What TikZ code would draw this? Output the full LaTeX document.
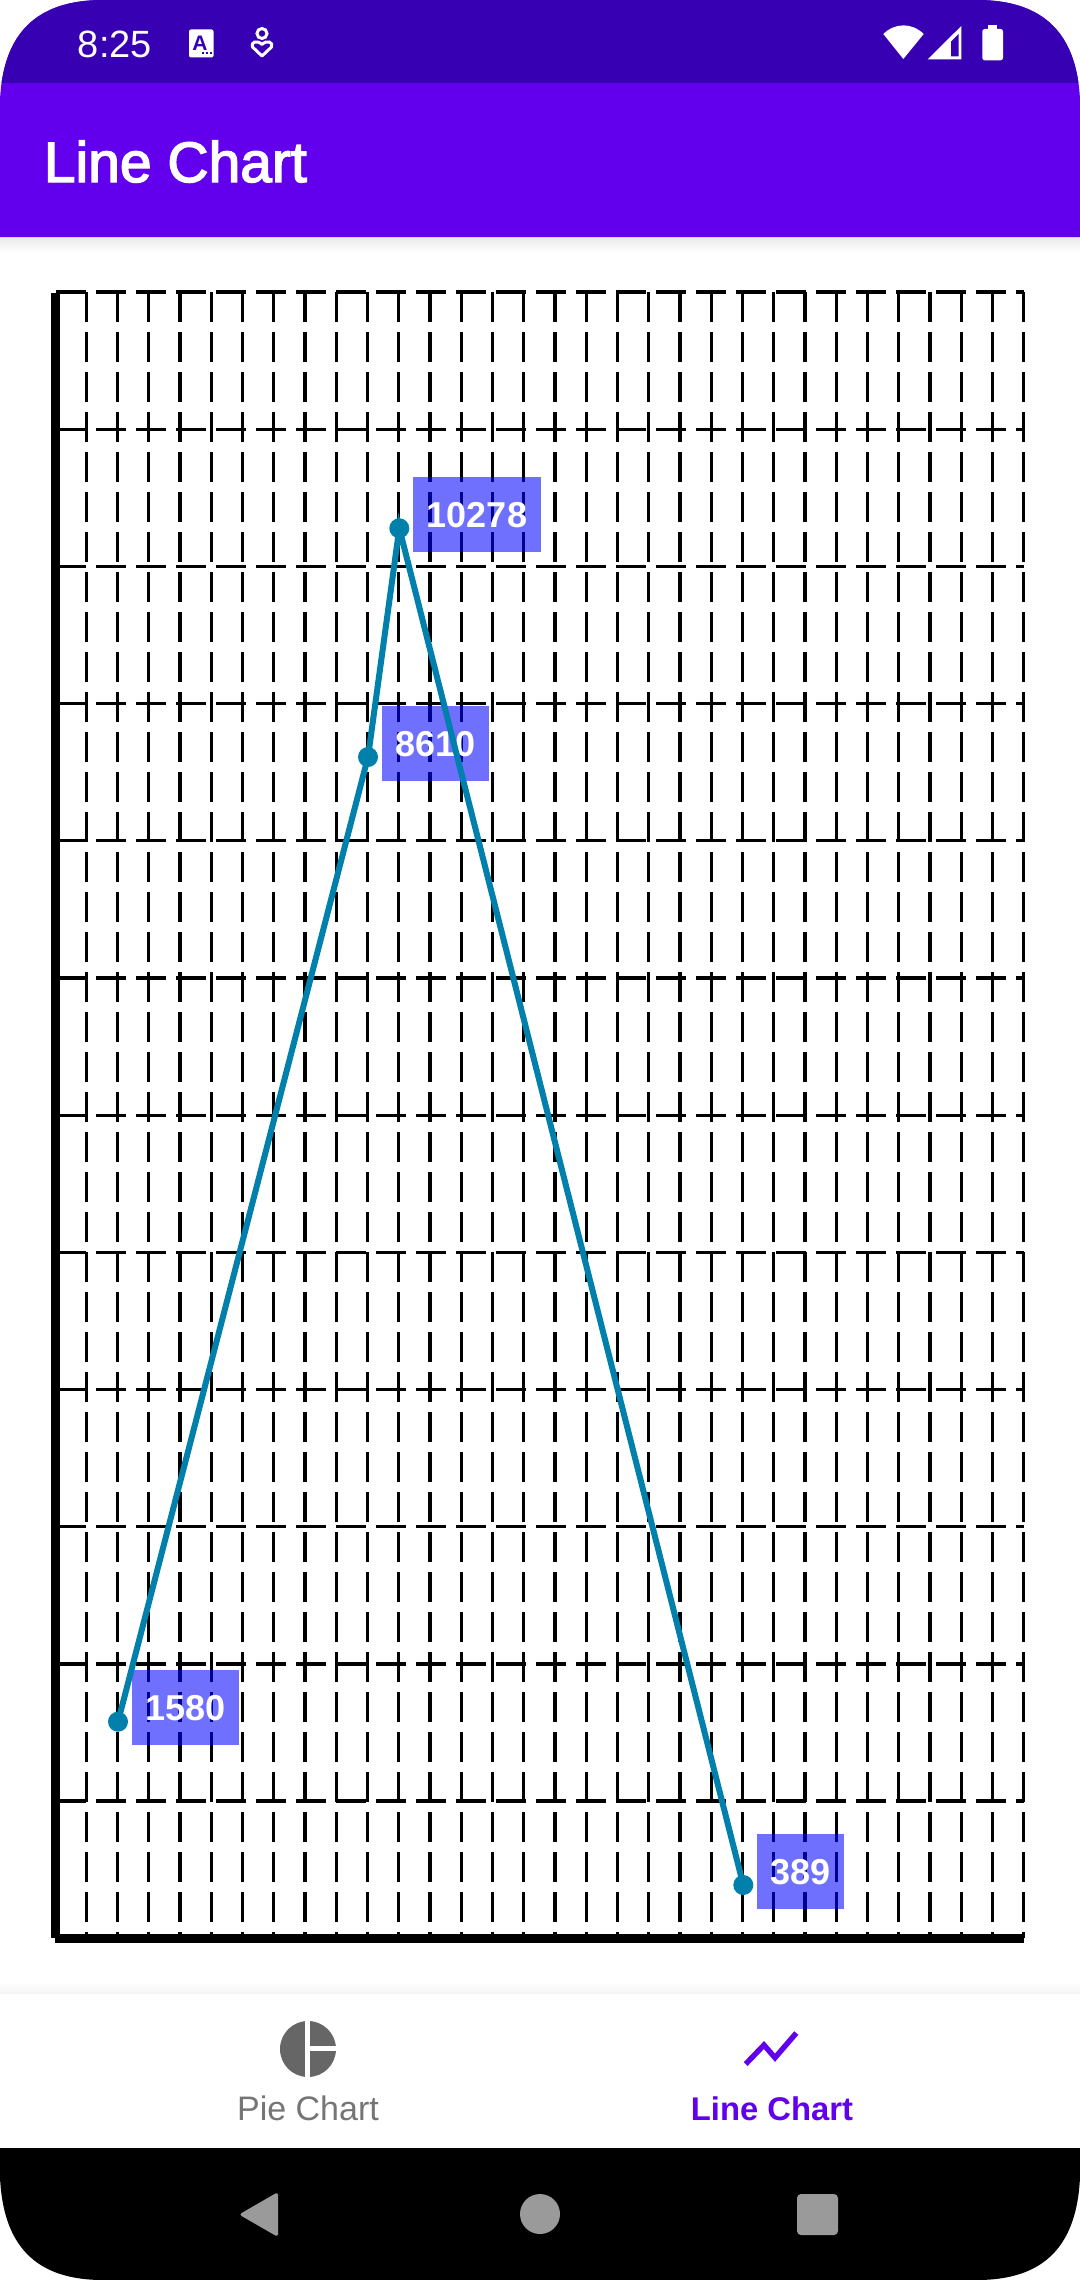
\documentclass[tikz,border=0pt]{standalone}
\usepackage{fontspec}
\setmainfont{Liberation Sans}
\newfontfamily\medfont[FakeBold=2.5]{Liberation Sans}
\usetikzlibrary{shapes.geometric}
\definecolor{statusc}{HTML}{3700B3}
\definecolor{appc}{HTML}{6200EE}
\definecolor{tealc}{HTML}{0080AA}
\definecolor{labelc}{HTML}{0000FF}
\definecolor{iconc}{HTML}{666666}
\definecolor{navc}{HTML}{9A9A9A}
\definecolor{mutedc}{HTML}{757575}
\tikzset{
  gridline/.style={black,line width=1.6pt,dash pattern=on 15pt off 5pt},
  axisline/.style={black,line width=4.5pt},
  series/.style={tealc,line width=3pt},
  datapoint/.style={circle,fill=tealc,inner sep=0pt,minimum size=10pt},
  valuebox/.style={rectangle,fill=labelc,fill opacity=0.56,text opacity=1,text=white,
    inner sep=0pt,minimum height=37.4pt,text height=12.5pt,text depth=0pt,
    font=\fontsize{18pt}{20pt}\selectfont\bfseries},
  plaintext/.style={inner sep=0pt,anchor=base west},
}
\begin{document}
\begin{tikzpicture}[x=0.5pt,y=-0.5pt]
\useasboundingbox (0,0) rectangle (1080,2280);
\fill[white] (0,0) rectangle (1080,2280);
% shadows
\shade[top color=black!9,bottom color=white] (0,236) rectangle (1080,252);
\shade[top color=white,bottom color=black!4] (0,1982) rectangle (1080,1993);
% app bar and status bar
\fill[appc] (0,237) -- (0,100) .. controls (3,35) and (35,0) .. (103,0) -- (977,0) .. controls (1045,0) and (1077,35) .. (1080,100) -- (1080,237) -- cycle;
\begin{scope}
\clip (0,100) .. controls (3,35) and (35,0) .. (103,0) -- (977,0) .. controls (1045,0) and (1077,35) .. (1080,100) -- cycle;
\fill[statusc] (0,0) rectangle (1080,83);
\end{scope}
\node[plaintext,text=white,font=\fontsize{19pt}{22pt}\selectfont] (clock) at (77.5,58) {8:25};
\node[plaintext,text=white,font=\medfont\fontsize{28.5pt}{32pt}\selectfont] (title) at (43.5,182) {Line Chart};
% status icons
\fill[white,rounded corners=1pt] (189,29.5) rectangle (213.5,57.5);
\node[inner sep=0pt,text=statusc,font=\fontsize{10.5pt}{12pt}\selectfont\bfseries] (aglyph) at (200,43) {A};
\foreach \dx in {203,207,211}{\fill[statusc] (\dx-1,52) rectangle (\dx+1,54.5);}
\draw[white,line width=1.5pt] (262,33.5) circle (5);
\draw[white,line width=1.5pt,line join=round] (262,56) -- (252.5,47) .. controls (250.5,42) and (257,39.5) .. (262,44.5) .. controls (267,39.5) and (273.5,42) .. (271.5,47) -- cycle;
\fill[white] (903.3,59) -- (883.3,34) .. controls (895,22.5) and (912,22.5) .. (923.7,34) -- cycle;
\fill[white] (927.7,59.3) -- (961.3,26) -- (961.3,59.3) -- cycle;
\fill[statusc] (951,41.7) -- (958.7,34) -- (958.7,56.3) -- (951,56.3) -- cycle;
\fill[white,rounded corners=1.2pt] (982.3,29) rectangle (1003,60.3);
\fill[white] (988,25.3) rectangle (997,30);
% grid
\foreach \i in {0,...,10}{
  \draw[gridline] (56,{292+137.2*\i}) -- (1024,{292+137.2*\i});
}
\draw[gridline] (56,1801) -- (1024,1801);
\foreach \i in {0,...,30}{
  \draw[gridline] ({86.3+31.25*\i},292) -- ({86.3+31.25*\i},1938);
}
\draw[axisline] (55.5,293) -- (55.5,1938);
\draw[axisline] (55,1938.5) -- (1024,1938.5);
% value boxes under the series
\node[valuebox,minimum width=64pt] (lab3) at (477,514.5) {10278};
\node[valuebox,minimum width=53.5pt] (lab2) at (435.5,743.5) {8610};
\node[valuebox,minimum width=53.5pt] (lab1) at (185.5,1707.5) {1580};
\node[valuebox,minimum width=43.5pt] (lab4) at (800.5,1871.5) {389};
\node[datapoint] (p1) at (118,1721.7) {};
\node[datapoint] (p2) at (368,757) {};
\node[datapoint] (p3) at (399.3,528.3) {};
\node[datapoint] (p4) at (743.3,1885) {};
\draw[series] (p1.center) -- (p2.center) -- (p3.center) -- (p4.center);
% bottom navigation
\fill[iconc] (308,2049) circle (28);
\fill[white] (305.3,2019) rectangle (310.3,2079);
\fill[white] (310.3,2046) rectangle (338,2051);
\node[anchor=base,inner sep=0pt,text=mutedc,font=\fontsize{17pt}{20pt}\selectfont] (tab1) at (308,2120) {Pie Chart};
\draw[appc,line width=2.7pt,miter limit=4] (745.7,2064) -- (764,2045) -- (775,2057.7) -- (796.3,2033);
\node[anchor=base,inner sep=0pt,text=appc,font=\fontsize{16.4pt}{20pt}\selectfont\bfseries] (tab2) at (772,2120) {Line Chart};
% system navigation bar
\fill[black] (0,2148) -- (0,2177) .. controls (3,2245) and (35,2280) .. (103,2280) -- (977,2280) .. controls (1045,2280) and (1077,2245) .. (1080,2177) -- (1080,2148) -- cycle;
\fill[navc,rounded corners=1.5pt] (278,2192) -- (278,2237) -- (239,2214.5) -- cycle;
\fill[navc] (540,2214) circle (20);
\fill[navc,rounded corners=2pt] (797,2194) rectangle (838,2235);
\end{tikzpicture}
\end{document}
